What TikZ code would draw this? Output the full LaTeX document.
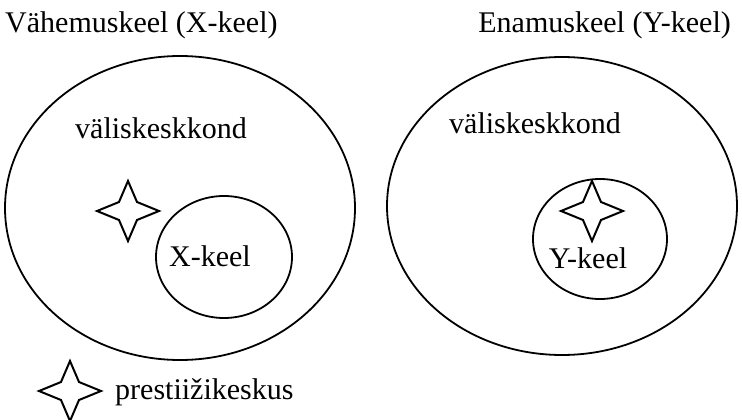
\documentclass[tikz,border=0pt]{standalone}
\usepackage{fontspec}
\setmainfont{Liberation Serif}
\begin{document}
\begin{tikzpicture}[x=1pt,y=-1pt,
  ring/.style={draw=black,line width=1.8pt},
  lbl/.style={inner sep=0pt,font=\fontsize{30}{36}\selectfont},
  starshape/.style={draw=black,line width=2pt,line join=miter}]
\useasboundingbox (0,0) rectangle (742,420);
% four-pointed star centred on (#1,#2)
\newcommand\fourstar[2]{%
  \draw[starshape,shift={(#1,#2)}] (0,-30) -- (9,-9) -- (31,0) -- (9,9)
    -- (0,30) -- (-9,9) -- (-31,0) -- (-9,-9) -- cycle;}
% left: minority language
\node[lbl,anchor=base west] (tl) at (5,33) {Vähemuskeel (X-keel)};
\draw[ring] (180,208) ellipse [x radius=175, y radius=152];
\node[lbl,anchor=west] (envl) at (75,128) {väliskeskkond};
\draw[ring] (224,257) ellipse [x radius=68, y radius=61];
\node[lbl] (xk) at (210,256) {X-keel};
\fourstar{128}{211}
% right: majority language
\node[lbl,anchor=base east] (tr) at (731,33) {Enamuskeel (Y-keel)};
\draw[ring] (562,206) ellipse [x radius=175, y radius=149];
\node[lbl,anchor=west] (envr) at (449,123) {väliskeskkond};
\draw[ring] (600,239) ellipse [x radius=67, y radius=60];
\node[lbl] (yk) at (588,258) {Y-keel};
\fourstar{592}{211}
% legend
\fourstar{70}{391}
\node[lbl,anchor=west] (leg) at (115,392) {prestiižikeskus};
\end{tikzpicture}
\end{document}
